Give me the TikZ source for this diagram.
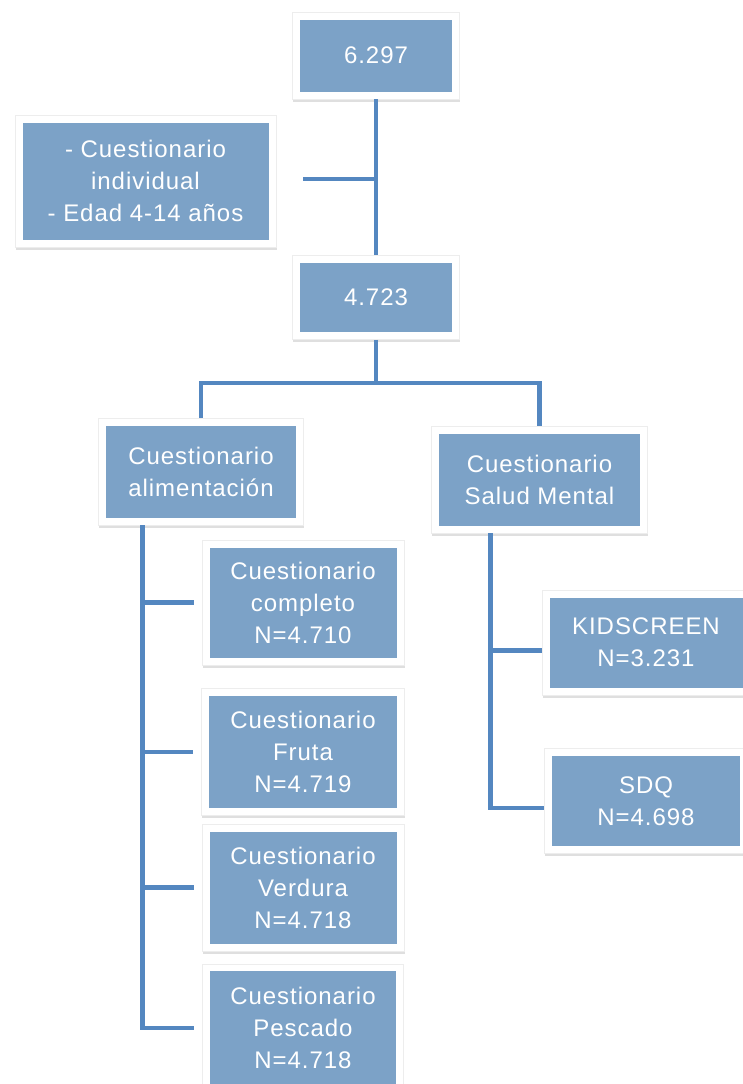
\documentclass[tikz,border=0pt]{standalone}
\usepackage{fontspec}
\setmainfont[LetterSpace=4]{Liberation Sans}
\usetikzlibrary{positioning, shadows}
\definecolor{boxfill}{RGB}{124,162,199}
\definecolor{linkblue}{RGB}{84,135,192}
\tikzset{
  box/.style={rectangle, fill=white, draw=black!7, line width=0.6pt, inner sep=0pt,
    text=white, align=center,
    font=\fontsize{24}{32}\selectfont,
    drop shadow={opacity=0.25, shadow xshift=0.5pt, shadow yshift=-2.5pt},
    path picture={\fill[boxfill] ([shift={(7.5pt,7.5pt)}]path picture bounding box.south west)
      rectangle ([shift={(-7.5pt,-7.5pt)}]path picture bounding box.north east);}},
  link/.style={draw=linkblue, line width=4.5pt}
}

\begin{document}
\begin{tikzpicture}[x=1pt, y=-1pt]
\useasboundingbox (0,0) rectangle (742,1084);
\fill[white] (0,0) rectangle (742,1084);

\node[box, minimum width=167pt, minimum height=87pt] (top) at (376,55.5) {6.297};
\node[box, minimum width=261pt, minimum height=132pt] (indiv) at (145.5,181) {- Cuestionario\\individual\\- Edad 4-14 años};
\node[box, minimum width=167pt, minimum height=84pt, below=156pt of top] (mid) {4.723};
\node[box, minimum width=205pt, minimum height=107pt] (alim) at (201,471.5) {Cuestionario\\alimentación};
\node[box, minimum width=216pt, minimum height=107pt] (salud) at (539.5,479.5) {Cuestionario\\Salud Mental};
\node[box, minimum width=202pt, minimum height=125pt] (completo) at (303,602.5) {Cuestionario\\completo\\N=4.710};
\node[box, minimum width=203pt, minimum height=127pt, below=23pt of completo] (fruta) {Cuestionario\\Fruta\\N=4.719};
\node[box, minimum width=202pt, minimum height=127pt, below=8pt of fruta] (verdura) {Cuestionario\\Verdura\\N=4.718};
\node[box, minimum width=201pt, minimum height=128pt, below=12pt of verdura] (pescado) {Cuestionario\\Pescado\\N=4.718};
\node[box, minimum width=208pt, minimum height=105pt] (kid) at (646,642.5) {KIDSCREEN\\N=3.231};
\node[box, minimum width=203pt, minimum height=105pt, below=53pt of kid] (sdq) {SDQ\\N=4.698};

\coordinate (aside) at (303,179);
\coordinate (split) at (376,383);
\coordinate (trunk) at ([xshift=44.5pt]alim.south west);
\coordinate (strunk) at ([xshift=59.5pt]salud.south west);
\coordinate (kw) at ([yshift=-8pt]kid.west);
\coordinate (sw) at ([yshift=-7pt]sdq.west);

\draw[link] (top) -- (mid);
\draw[link] (aside) -- (aside -| top.south);
\draw[link] (mid) -- (split);
\draw[link] (alim.north) |- (split) -| (salud.north);

\draw[link, shorten >=8pt] (trunk) |- (pescado.west);
\foreach \q in {completo, fruta, verdura}
  \draw[link, shorten >=8pt] (\q.west -| trunk) -- (\q.west);

\draw[link] (strunk) |- (sw);
\draw[link] (strunk |- kw) -- (kw);

\end{tikzpicture}
\end{document}
